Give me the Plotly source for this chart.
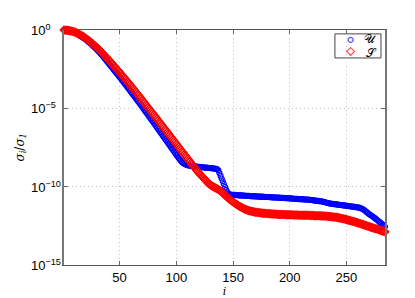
import plotly.graph_objects as go

# log10(sigma_i / sigma_1), i = 1..284
u_log = [
    0.00, -0.01, -0.02, -0.03, -0.04, -0.06, -0.08, -0.10, -0.12, -0.15,
    -0.18, -0.21, -0.25, -0.30, -0.35, -0.40, -0.45, -0.50, -0.55, -0.60,
    -0.66, -0.72, -0.78, -0.84, -0.90, -0.97, -1.04, -1.11, -1.18, -1.25,
    -1.33, -1.41, -1.49, -1.57, -1.65, -1.74, -1.83, -1.92, -2.01, -2.10,
    -2.19, -2.28, -2.37, -2.46, -2.55, -2.64, -2.73, -2.82, -2.91, -3.00,
    -3.09, -3.19, -3.28, -3.38, -3.47, -3.57, -3.66, -3.76, -3.85, -3.95,
    -4.05, -4.14, -4.24, -4.33, -4.43, -4.53, -4.62, -4.72, -4.82, -4.92,
    -5.02, -5.12, -5.22, -5.32, -5.42, -5.52, -5.62, -5.72, -5.82, -5.92,
    -6.02, -6.12, -6.22, -6.33, -6.43, -6.53, -6.63, -6.74, -6.84, -6.94,
    -7.04, -7.14, -7.25, -7.35, -7.45, -7.55, -7.65, -7.76, -7.86, -7.96,
    -8.06, -8.16, -8.26, -8.35, -8.43, -8.49, -8.54, -8.58, -8.61, -8.63,
    -8.65, -8.66, -8.67, -8.68, -8.69, -8.70, -8.71, -8.72, -8.73, -8.74,
    -8.75, -8.75, -8.76, -8.77, -8.78, -8.78, -8.79, -8.80, -8.81, -8.82,
    -8.82, -8.83, -8.84, -8.85, -8.86, -8.88, -8.95, -9.12, -9.30, -9.48,
    -9.66, -9.84, -10.02, -10.20, -10.36, -10.45, -10.49, -10.51, -10.52, -10.52,
    -10.53, -10.53, -10.54, -10.54, -10.55, -10.55, -10.56, -10.56, -10.57, -10.57,
    -10.58, -10.58, -10.59, -10.59, -10.60, -10.60, -10.61, -10.61, -10.62, -10.62,
    -10.62, -10.63, -10.63, -10.64, -10.64, -10.64, -10.65, -10.65, -10.66, -10.66,
    -10.66, -10.67, -10.67, -10.68, -10.68, -10.68, -10.69, -10.69, -10.70, -10.70,
    -10.70, -10.71, -10.71, -10.72, -10.72, -10.73, -10.73, -10.74, -10.74, -10.75,
    -10.75, -10.76, -10.76, -10.77, -10.77, -10.78, -10.78, -10.79, -10.79, -10.80,
    -10.80, -10.81, -10.81, -10.82, -10.82, -10.83, -10.83, -10.84, -10.85, -10.86,
    -10.87, -10.88, -10.89, -10.90, -10.91, -10.92, -10.93, -10.94, -10.95, -10.97,
    -10.99, -11.01, -11.03, -11.05, -11.07, -11.08, -11.09, -11.10, -11.11, -11.12,
    -11.13, -11.14, -11.15, -11.16, -11.17, -11.18, -11.19, -11.20, -11.21, -11.22,
    -11.23, -11.24, -11.25, -11.26, -11.27, -11.28, -11.29, -11.30, -11.31, -11.32,
    -11.34, -11.36, -11.39, -11.42, -11.46, -11.51, -11.57, -11.63, -11.69, -11.75,
    -11.80, -11.85, -11.90, -11.95, -12.00, -12.06, -12.12, -12.18, -12.24, -12.30,
    -12.36, -12.42, -12.48, -12.55,
]

s_log = [
    0.00, -0.01, -0.01, -0.02, -0.03, -0.04, -0.06, -0.08, -0.10, -0.12,
    -0.15, -0.18, -0.22, -0.26, -0.30, -0.34, -0.38, -0.42, -0.47, -0.52,
    -0.57, -0.62, -0.68, -0.74, -0.80, -0.86, -0.92, -0.99, -1.05, -1.12,
    -1.19, -1.26, -1.33, -1.40, -1.48, -1.56, -1.64, -1.72, -1.80, -1.87,
    -1.95, -2.03, -2.12, -2.20, -2.28, -2.36, -2.45, -2.53, -2.62, -2.70,
    -2.79, -2.87, -2.96, -3.04, -3.13, -3.22, -3.31, -3.39, -3.48, -3.57,
    -3.66, -3.75, -3.84, -3.93, -4.02, -4.11, -4.20, -4.29, -4.39, -4.48,
    -4.57, -4.66, -4.76, -4.85, -4.94, -5.03, -5.12, -5.22, -5.31, -5.40,
    -5.49, -5.59, -5.68, -5.78, -5.87, -5.96, -6.06, -6.15, -6.25, -6.34,
    -6.43, -6.53, -6.62, -6.72, -6.81, -6.90, -7.00, -7.09, -7.19, -7.28,
    -7.37, -7.47, -7.56, -7.66, -7.75, -7.84, -7.94, -8.03, -8.13, -8.22,
    -8.31, -8.40, -8.50, -8.59, -8.68, -8.77, -8.86, -8.95, -9.04, -9.13,
    -9.21, -9.29, -9.37, -9.45, -9.53, -9.61, -9.69, -9.76, -9.83, -9.89,
    -9.94, -9.98, -10.02, -10.06, -10.10, -10.14, -10.18, -10.23, -10.28, -10.34,
    -10.40, -10.47, -10.54, -10.61, -10.68, -10.75, -10.81, -10.87, -10.92, -10.97,
    -11.02, -11.07, -11.12, -11.17, -11.22, -11.26, -11.30, -11.34, -11.38, -11.42,
    -11.45, -11.48, -11.51, -11.53, -11.55, -11.57, -11.59, -11.60, -11.62, -11.63,
    -11.64, -11.65, -11.66, -11.67, -11.68, -11.69, -11.70, -11.70, -11.71, -11.72,
    -11.72, -11.73, -11.73, -11.74, -11.74, -11.75, -11.75, -11.76, -11.76, -11.77,
    -11.77, -11.77, -11.78, -11.78, -11.78, -11.79, -11.79, -11.79, -11.80, -11.80,
    -11.80, -11.80, -11.81, -11.81, -11.81, -11.81, -11.81, -11.82, -11.82, -11.82,
    -11.82, -11.82, -11.83, -11.83, -11.83, -11.83, -11.83, -11.84, -11.84, -11.84,
    -11.84, -11.85, -11.85, -11.85, -11.86, -11.86, -11.86, -11.87, -11.87, -11.88,
    -11.88, -11.89, -11.89, -11.90, -11.91, -11.91, -11.92, -11.93, -11.94, -11.95,
    -11.96, -11.97, -11.99, -12.00, -12.02, -12.03, -12.05, -12.06, -12.08, -12.10,
    -12.12, -12.14, -12.16, -12.18, -12.20, -12.22, -12.24, -12.26, -12.28, -12.30,
    -12.33, -12.35, -12.38, -12.40, -12.43, -12.45, -12.48, -12.50, -12.53, -12.55,
    -12.57, -12.60, -12.62, -12.64, -12.67, -12.69, -12.71, -12.73, -12.76, -12.78,
    -12.81, -12.83, -12.86, -12.88,
]

x_ticks = [50, 100, 150, 200, 250]
y_tick_exps = [-15, -10, -5, 0]
y_ticktext = ["10<sup>\u221215</sup>", "10<sup>\u221210</sup>", "10<sup>\u22125</sup>", "10<sup>0</sup>"]
legend_names = ["\U0001D4B0", "\U0001D4AE"]

idx_u = list(range(1, len(u_log) + 1))
idx_s = list(range(1, len(s_log) + 1))
u_vals = [10 ** v for v in u_log]
s_vals = [10 ** v for v in s_log]

FONT = "Liberation Sans, Arial, sans-serif"
BLUE = "#0000ff"
RED = "#ff0000"

fig = go.Figure()
fig.add_trace(go.Scatter(
    x=idx_u, y=u_vals, mode="markers", name=legend_names[0], showlegend=False,
    marker=dict(symbol="circle-open", size=5, color=BLUE, line=dict(width=1.2, color=BLUE)),
    cliponaxis=False,
))
fig.add_trace(go.Scatter(
    x=idx_s, y=s_vals, mode="markers", name=legend_names[1], showlegend=False,
    marker=dict(symbol="diamond-open", size=6, color=RED, line=dict(width=1.2, color=RED)),
    cliponaxis=False,
))

# compact legend: keys on an overlay axis, box as a shape, labels as annotations
fig.add_trace(go.Scatter(
    x=[0.893, 0.893], y=[0.958, 0.909], xaxis="x2", yaxis="y2", mode="markers",
    showlegend=False, hoverinfo="skip",
    marker=dict(symbol=["circle-open", "diamond-open"], size=[5, 6],
                color=[BLUE, RED], line=dict(width=1.2, color=[BLUE, RED])),
    cliponaxis=False,
))
fig.add_shape(type="rect", xref="paper", yref="paper",
              x0=0.844, x1=0.9875, y0=0.881, y1=0.9835,
              line=dict(color="#444", width=1), fillcolor="white", layer="between")
for name, yy in zip(legend_names, [0.962, 0.902]):
    fig.add_annotation(xref="paper", yref="paper", x=0.98, y=yy, text=name,
                       showarrow=False, xanchor="right", yanchor="middle",
                       font=dict(family="DejaVu Serif, serif", size=12, color="black"))

# y tick labels (left aligned, as in the reference)
for e, t in zip(y_tick_exps, y_ticktext):
    fig.add_annotation(xref="paper", yref="y", x=-0.109, y=e, text=t,
                       showarrow=False, xanchor="left", yanchor="middle",
                       font=dict(family=FONT, size=13, color="black"))

# y axis title
fig.add_annotation(xref="paper", yref="paper", x=-0.137, y=0.5,
                   text="<i>\u03c3<sub>i</sub></i>/<i>\u03c3<sub>1</sub></i>",
                   textangle=-90, showarrow=False, xanchor="center", yanchor="middle",
                   font=dict(family="DejaVu Serif, serif", size=12, color="black"))

fig.update_layout(
    width=415, height=298,
    margin=dict(l=56, r=38, t=22, b=33),
    paper_bgcolor="white", plot_bgcolor="white",
    font=dict(family=FONT, size=12, color="black"),
    showlegend=False,
    xaxis2=dict(overlaying="x", range=[0, 1], visible=False, fixedrange=True),
    yaxis2=dict(overlaying="y", range=[0, 1], visible=False, fixedrange=True),
    xaxis=dict(
        range=[1, 284], tickvals=x_ticks, ticks="inside", ticklen=4,
        tickcolor="#666", showline=True, linecolor="#555", linewidth=1.2, mirror="allticks",
        showgrid=True, gridcolor="#c4c4c4", griddash="1px,3px", gridwidth=1,
        zeroline=False, tickfont=dict(size=13),
        title=dict(text="<i>i</i>", font=dict(family="DejaVu Serif, serif", size=11), standoff=2),
    ),
    yaxis=dict(
        type="log", range=[-15, 0], tickvals=[10 ** e for e in y_tick_exps],
        showticklabels=False,
        ticks="inside", ticklen=4, tickcolor="#666",
        showline=True, linecolor="#777", linewidth=1.5, mirror="allticks",
        showgrid=True, gridcolor="#c4c4c4", griddash="1px,3px", gridwidth=1,
        zeroline=False,
    ),
)

fig.write_html("out.html")
